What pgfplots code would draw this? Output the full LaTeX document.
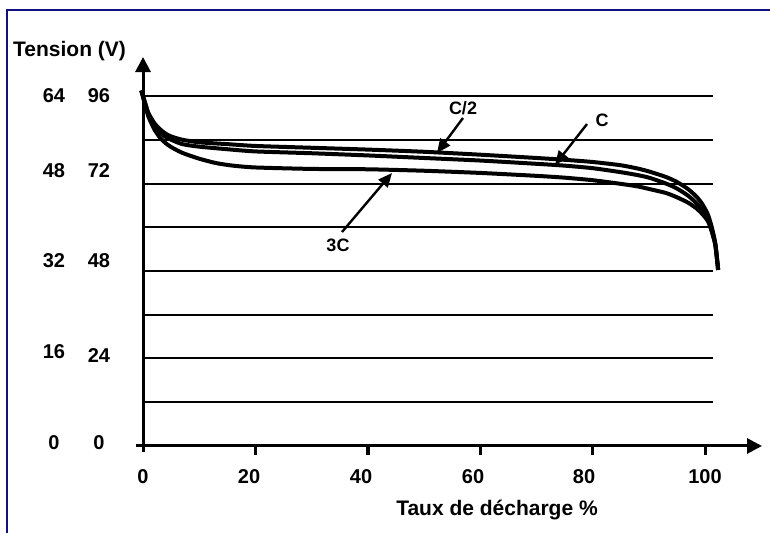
\documentclass[border=0pt]{standalone}
\usepackage{pgfplots}
\pgfplotsset{compat=1.18}
\usepackage{fontspec}
\setmainfont{Liberation Sans}
\usetikzlibrary{arrows.meta}
\definecolor{framenavy}{RGB}{16,16,128}

% courbes de decharge (x en %, y sur l'echelle 0-96 V)
\pgfplotstableread{
x y
-0.3 97.5
0.5 93.5
1 91.2
2 88.6
3 86.9
4 85.7
5 84.9
7 84.0
10 83.3
15 82.8
20 82.3
30 81.8
40 81.3
50 80.7
60 79.9
70 79.0
75 78.5
80 77.9
85 77.0
88 76.1
90 75.3
93 73.8
95 72.4
97 70.4
98.5 68.3
99.5 66.3
100.5 63.4
101.2 59.8
101.8 55.5
102.3 48.3
}\halfC
\pgfplotstableread{
x y
-0.3 97.5
0.5 93.2
1 90.8
2 88.0
3 86.1
4 84.8
5 84.0
7 82.8
10 82.1
15 81.4
20 80.8
30 80.3
40 79.7
50 79.0
60 78.3
70 77.4
75 76.9
80 76.2
85 75.1
88 74.3
90 73.6
93 72.0
95 70.6
97 68.6
98.5 66.5
99.5 64.5
100.5 62.3
101.2 59.0
101.8 55.3
102.3 48.3
}\oneC
\pgfplotstableread{
x y
-0.3 97.5
0.5 92.8
1 90.2
2 86.9
3 84.6
4 83.1
5 82.0
7 80.4
10 78.8
13 77.6
16 76.9
20 76.4
30 76.0
40 75.9
50 75.5
60 74.9
70 74.1
75 73.6
80 72.9
85 71.9
88 71.2
90 70.5
93 69.4
95 68.2
97 66.7
98.5 65.1
99.5 63.6
100.5 61.6
101.2 58.6
101.8 55.0
102.3 48.3
}\threeC

\begin{document}
\begin{tikzpicture}
\path[use as bounding box] (0,0) rectangle (770bp,-533bp);
\draw[framenavy, line width=2bp] (7bp,-545bp) -- (7bp,-10bp) -- (785bp,-10bp);

\begin{axis}[
    at={(136bp,-452bp)}, anchor=south west,
    scale only axis, width=626bp, height=395bp,
    xmin=-1.25, xmax=110.1,
    ymin=-1.65, ymax=106.7,
    axis lines=middle,
    axis line style={line width=3bp, -{Triangle[length=15bp,width=15bp]}},
    xtick=\empty, ytick=\empty,
    clip=false,
]
\draw[line width=2bp] (axis cs:0,12) -- (axis cs:101.4,12);
\draw[line width=2bp] (axis cs:0,24) -- (axis cs:101.4,24);
\draw[line width=2bp] (axis cs:0,36) -- (axis cs:101.4,36);
\draw[line width=2bp] (axis cs:0,48) -- (axis cs:101.4,48);
\draw[line width=2bp] (axis cs:0,60) -- (axis cs:101.4,60);
\draw[line width=2bp] (axis cs:0,72) -- (axis cs:101.4,72);
\draw[line width=2bp] (axis cs:0,84) -- (axis cs:101.4,84);
\draw[line width=2bp] (axis cs:0,96) -- (axis cs:101.4,96);

% graduations sous l'axe x
\draw[line width=3.2bp] (axis cs:20,0) -- (axis cs:20,-2.5);
\draw[line width=3.2bp] (axis cs:40,0) -- (axis cs:40,-2.5);
\draw[line width=3.2bp] (axis cs:60,0) -- (axis cs:60,-2.5);
\draw[line width=3.2bp] (axis cs:80,0) -- (axis cs:80,-2.5);
\draw[line width=3.2bp] (axis cs:100,0) -- (axis cs:100,-2.5);

\addplot[black, line width=4bp, smooth, tension=0.4] table {\halfC};
\addplot[black, line width=4bp, smooth, tension=0.4] table {\oneC};
\addplot[black, line width=4bp, smooth, tension=0.4] table {\threeC};
\end{axis}

\begin{scope}[font=\bfseries\fontsize{20bp}{24bp}\selectfont]
% graduations de l'axe x
\node[anchor=base] at (143bp,-483bp) {0};
\node[anchor=base] at (249bp,-483bp) {20};
\node[anchor=base] at (361bp,-483bp) {40};
\node[anchor=base] at (473bp,-483bp) {60};
\node[anchor=base] at (584bp,-483bp) {80};
\node[anchor=base] at (705bp,-483bp) {100};
% double echelle de tension
\node[anchor=base] at (54bp,-102bp) {64};
\node[anchor=base] at (99bp,-102bp) {96};
\node[anchor=base] at (54bp,-177bp) {48};
\node[anchor=base] at (99bp,-177bp) {72};
\node[anchor=base] at (54bp,-267bp) {32};
\node[anchor=base] at (99bp,-267bp) {48};
\node[anchor=base] at (54bp,-358bp) {16};
\node[anchor=base] at (99bp,-362bp) {24};
\node[anchor=base] at (54bp,-449bp) {0};
\node[anchor=base] at (99bp,-449bp) {0};
\end{scope}

\begin{scope}[font=\bfseries\fontsize{21bp}{25bp}\selectfont]
\node[anchor=base west, inner sep=0pt] at (13bp,-56bp) {Tension (V)};
\node[anchor=base] at (497bp,-515bp) {Taux de décharge \%};
\end{scope}

% reperes des courbes
\begin{scope}[font=\bfseries\fontsize{18bp}{22bp}\selectfont]
\node at (463bp,-108bp) {C/2};
\node at (602bp,-120bp) {C};
\node at (338bp,-245bp) {3C};
\end{scope}
\begin{scope}[line width=2.4bp, -{Triangle[length=14bp,width=12bp]}]
\draw (463bp,-118bp) -- (437bp,-153bp);
\draw (587bp,-124bp) -- (555bp,-165bp);
\draw (342bp,-232bp) -- (392bp,-173bp);
\end{scope}
\end{tikzpicture}
\end{document}
